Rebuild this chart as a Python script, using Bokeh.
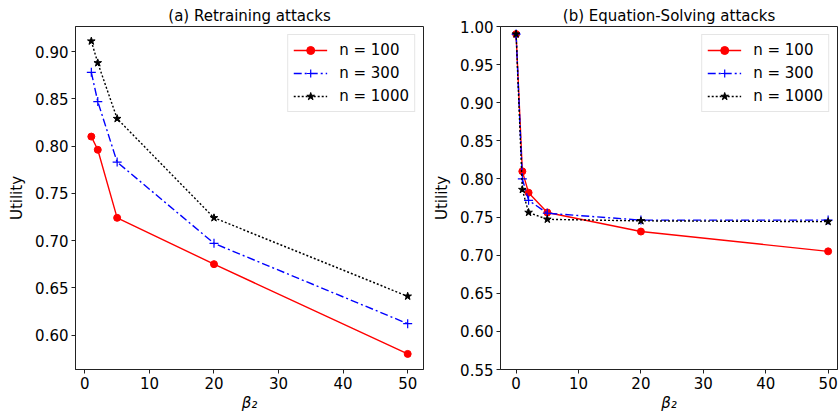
from bokeh.plotting import figure
from bokeh.layouts import row
from bokeh.models import FixedTicker, PrintfTickFormatter, Range1d
from bokeh.embed import file_html
from bokeh.resources import INLINE

# ---- data ----
beta_a = [1, 2, 5, 20, 50]
a_n100 = [0.810, 0.796, 0.724, 0.675, 0.580]
a_n300 = [0.878, 0.847, 0.783, 0.697, 0.612]
a_n1000 = [0.911, 0.888, 0.829, 0.724, 0.641]

beta_b = [0, 1, 2, 5, 20, 50]
b_n100 = [0.990, 0.810, 0.782, 0.756, 0.731, 0.705]
b_n300 = [0.990, 0.800, 0.772, 0.755, 0.746, 0.746]
b_n1000 = [0.990, 0.786, 0.756, 0.747, 0.745, 0.744]

labels = ["n = 100", "n = 300", "n = 1000"]
titles = ["(a) Retraining attacks", "(b) Equation-Solving attacks"]
x_ticks = [0, 10, 20, 30, 40, 50]
y_ticks_a = [0.60, 0.65, 0.70, 0.75, 0.80, 0.85, 0.90]
y_ticks_b = [0.55, 0.60, 0.65, 0.70, 0.75, 0.80, 0.85, 0.90, 0.95, 1.00]

FONT = "DejaVu Sans"
FS = "15px"

styles = [
    dict(color="#ff0000", dash="solid", marker="circle", size=7, lw=1),
    dict(color="#0000ff", dash="8 3 2 3", marker="cross", size=9, lw=1.2),
    dict(color="#000000", dash="2 2", marker="star", size=8, lw=1),
]


def make_fig(title, xs, series, xr, yr, yticks, width, mbl, mbr):
    p = figure(width=width, height=414, x_range=Range1d(*xr), y_range=Range1d(*yr),
               output_backend="svg", toolbar_location=None,
               min_border_left=mbl, min_border_right=mbr,
               min_border_top=26, min_border_bottom=43)
    p.title.text = title
    p.title.align = "center"
    p.title.text_font = FONT
    p.title.text_font_size = FS
    p.title.text_font_style = "normal"
    p.title.text_color = "#000000"
    p.title.standoff = 3
    p.xgrid.visible = False
    p.ygrid.visible = False
    p.outline_line_color = "#222222"
    p.outline_line_width = 1
    p.outline_line_alpha = 1

    for ys, lab, st in zip(series, labels, styles):
        p.line(xs, ys, line_color=st["color"], line_width=1.4, line_dash=st["dash"],
               legend_label=lab)
        p.scatter(xs, ys, marker=st["marker"], size=st["size"], fill_color=st["color"],
                  line_color=st["color"], line_width=st["lw"], legend_label=lab)

    for ax in (p.xaxis[0], p.yaxis[0]):
        ax.major_label_text_font = FONT
        ax.major_label_text_font_size = FS
        ax.major_label_text_color = "#000000"
        ax.axis_label_text_font = FONT
        ax.axis_label_text_font_size = FS
        ax.axis_label_text_font_style = "normal"
        ax.axis_label_text_color = "#000000"
        ax.axis_line_color = "#222222"
        ax.major_tick_line_color = "#222222"
        ax.major_tick_out = 4
        ax.major_tick_in = 0
        ax.minor_tick_line_color = None
    p.xaxis[0].ticker = FixedTicker(ticks=x_ticks)
    p.yaxis[0].ticker = FixedTicker(ticks=yticks)
    p.yaxis[0].formatter = PrintfTickFormatter(format="%.2f")
    p.xaxis[0].axis_label = "β₂"
    p.xaxis[0].axis_label_text_font_style = "italic"
    p.xaxis[0].major_label_standoff = 3
    p.xaxis[0].axis_label_standoff = 2
    p.yaxis[0].axis_label = "Utility"
    p.yaxis[0].major_label_standoff = 3
    p.yaxis[0].axis_label_standoff = 6

    lg = p.legend[0]
    lg.location = "top_right"
    lg.margin = 8
    lg.padding = 5
    lg.spacing = 3
    lg.glyph_width = 34
    lg.glyph_height = 20
    lg.label_height = 20
    lg.label_standoff = 12
    lg.label_text_font = FONT
    lg.label_text_font_size = FS
    lg.label_text_color = "#000000"
    lg.border_line_color = "#cccccc"
    lg.border_line_width = 1
    lg.background_fill_alpha = 0.8
    return p


p1 = make_fig(titles[0], beta_a, [a_n100, a_n300, a_n1000], (-1.45, 52.45), (0.5635, 0.9265),
              y_ticks_a, 430, 75, 7)
p2 = make_fig(titles[1], beta_b, [b_n100, b_n300, b_n1000], (-2.5, 51.5), (0.55, 1.00),
              y_ticks_b, 408, 65, 1)

layout = row(p1, p2)
open("out.html", "w").write(file_html(layout, INLINE))
